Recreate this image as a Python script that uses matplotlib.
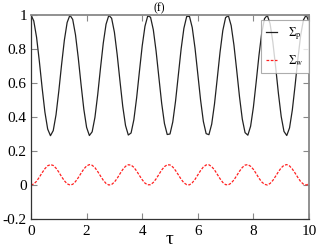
import numpy as np
import matplotlib
matplotlib.use("Agg")
import matplotlib.pyplot as plt

tau = [round(0.1 * i, 1) for i in range(101)]

sigma_p = [
    1.000, 0.965, 0.869, 0.728, 0.572, 0.429, 0.329, 0.290, 0.320, 0.413,
    0.552, 0.708, 0.852, 0.956, 0.999, 0.974, 0.884, 0.748, 0.592, 0.446,
    0.339, 0.291, 0.313, 0.398, 0.532, 0.688, 0.835, 0.946, 0.998, 0.981,
    0.899, 0.767, 0.612, 0.463, 0.350, 0.294, 0.306, 0.384, 0.513, 0.668,
    0.818, 0.934, 0.995, 0.987, 0.913, 0.787, 0.633, 0.481, 0.362, 0.297,
    0.300, 0.371, 0.494, 0.647, 0.800, 0.922, 0.991, 0.992, 0.926, 0.805,
    0.653, 0.500, 0.374, 0.302, 0.296, 0.358, 0.476, 0.627, 0.781, 0.909,
    0.985, 0.996, 0.938, 0.823, 0.674, 0.519, 0.388, 0.308, 0.293, 0.346,
    0.458, 0.606, 0.762, 0.895, 0.979, 0.998, 0.949, 0.840, 0.694, 0.538,
    0.403, 0.315, 0.291, 0.336, 0.441, 0.586, 0.742, 0.880, 0.971, 1.000,
    0.959,
]

sigma_w = [
    0.000, 0.006, 0.022, 0.046, 0.072, 0.096, 0.113, 0.120, 0.115, 0.099,
    0.076, 0.049, 0.025, 0.007, 0.000, 0.004, 0.020, 0.043, 0.069, 0.094,
    0.112, 0.120, 0.116, 0.102, 0.079, 0.053, 0.028, 0.009, 0.000, 0.003,
    0.017, 0.039, 0.066, 0.091, 0.110, 0.119, 0.117, 0.104, 0.082, 0.056,
    0.031, 0.011, 0.001, 0.002, 0.015, 0.036, 0.062, 0.088, 0.108, 0.119,
    0.118, 0.106, 0.085, 0.060, 0.034, 0.013, 0.002, 0.001, 0.013, 0.033,
    0.059, 0.085, 0.106, 0.118, 0.119, 0.108, 0.089, 0.063, 0.037, 0.015,
    0.002, 0.001, 0.011, 0.030, 0.055, 0.081, 0.103, 0.117, 0.120, 0.110,
    0.092, 0.067, 0.040, 0.018, 0.004, 0.000, 0.009, 0.027, 0.052, 0.078,
    0.101, 0.116, 0.120, 0.112, 0.094, 0.070, 0.044, 0.020, 0.005, 0.000,
    0.007,
]

x_ticks = [0, 2, 4, 6, 8, 10]
x_labels = ["0", "2", "4", "6", "8", "10"]
y_ticks = [-0.2, 0, 0.2, 0.4, 0.6, 0.8, 1.0]
y_labels = ["-0.2", "0", "0.2", "0.4", "0.6", "0.8", "1"]

plt.rcParams['font.family'] = ['Liberation Serif', 'DejaVu Serif']
plt.rcParams['mathtext.fontset'] = 'stix'

fig = plt.figure(figsize=(3.19, 2.49), dpi=100)
ax = fig.add_axes([31 / 319, 1 - 219 / 249, 278 / 319, 204 / 249])

ax.plot(tau, sigma_p, color='#222222', lw=0.9, label=r'$\Sigma_\mathrm{p}$')
ax.plot(tau, sigma_w, color='#ff2020', lw=0.9, ls=(0, (2.2, 1.2)), label=r'$\Sigma_\mathrm{w}$')

ax.set_xlim(0, 10)
ax.set_ylim(-0.2, 1.0)
ax.set_xticks(x_ticks)
ax.set_xticklabels(x_labels)
ax.set_yticks(y_ticks)
ax.set_yticklabels(y_labels)
ax.tick_params(direction='in', length=4, width=0.8, color='#888888',
               top=True, right=True, labelsize=11, pad=3)
ax.tick_params(axis='x', pad=4)

for side in ['left', 'bottom']:
    ax.spines[side].set_color('#333333')
    ax.spines[side].set_linewidth(0.9)
for side in ['top', 'right']:
    ax.spines[side].set_color('#888888')
    ax.spines[side].set_linewidth(1.3)

fig.text(170 / 319, 1 - 243.5 / 249, 'τ', ha='center', va='baseline', fontsize=14)

fig.text(159 / 319, 1 - 8.5 / 249, '(f)', ha='center', va='center', fontsize=8.5)

leg = ax.legend(loc='upper right', bbox_to_anchor=(1.0, 1 - 5 / 204), fontsize=8.5,
                frameon=True, fancybox=False, handlelength=0.9, handletextpad=1.0,
                borderpad=0.45, labelspacing=1.0, borderaxespad=0)
leg.get_frame().set_edgecolor('#999999')
leg.get_frame().set_linewidth(0.8)

fig.savefig('out.png', dpi=100)
